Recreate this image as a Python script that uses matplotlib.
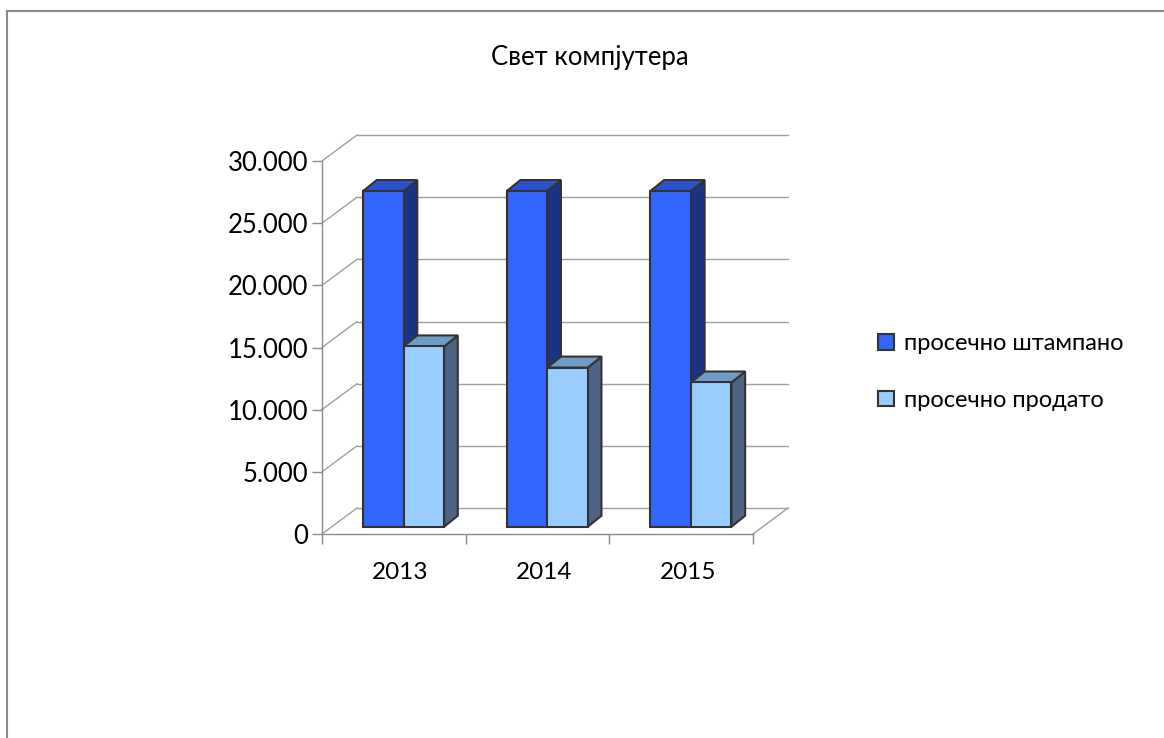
import numpy as np
import matplotlib
matplotlib.use('Agg')
import matplotlib.pyplot as plt
from matplotlib.patches import Polygon, Rectangle
from matplotlib.lines import Line2D

plt.rcParams['font.family'] = ['Lato', 'DejaVu Sans']

# podaci
godine = ['2013', '2014', '2015']
stampano = [27000, 27000, 27000]
prodato = [14500, 12800, 11600]
serije = ['просечно штампано', 'просечно продато']
y_ticks = [0, 5000, 10000, 15000, 20000, 25000, 30000]

# boje: lice, vrh, bok
boje = [('#3366ff', '#2a52cc', '#1b3382'),
        ('#99ccff', '#6f9cc6', '#4d6482')]

fig = plt.figure(figsize=(11.64, 7.38), dpi=100)
ax = fig.add_axes([322 / 1164, 1 - 534 / 738, 431 / 1164, 373 / 738])
ax.set_xlim(0, 3)
ax.set_ylim(0, 30000)

# dubina zida i stubica u jedinicama podataka
zid_dx, zid_dy = 0.2436, 2090
pomak = 0.28
sirina = 0.282
stub_dx, stub_dy = 0.095, 885
siva = '#a0a0a0'

# zadnji zid i dijagonale
for v in y_ticks:
    ax.plot([zid_dx, 3 + zid_dx], [v + zid_dy, v + zid_dy], color=siva, lw=1, clip_on=False, zorder=1)
    ax.plot([0, zid_dx], [v, v + zid_dy], color=siva, lw=1, clip_on=False, zorder=1)
ax.plot([3, 3 + zid_dx], [0, zid_dy], color=siva, lw=1, clip_on=False, zorder=1)

# stubici
z = 3
for i in range(len(godine)):
    for s, vrednosti in enumerate([stampano, prodato]):
        v = vrednosti[i]
        x0 = i + 0.5 - sirina + s * sirina + pomak * zid_dx
        y0 = pomak * zid_dy
        lice, vrh, bok = boje[s]
        ax.add_patch(Polygon([(x0 + sirina, y0), (x0 + sirina + stub_dx, y0 + stub_dy),
                              (x0 + sirina + stub_dx, y0 + v + stub_dy), (x0 + sirina, y0 + v)],
                             closed=True, fc=bok, ec='#333333', lw=1.5, zorder=z, clip_on=False))
        ax.add_patch(Polygon([(x0, y0 + v), (x0 + sirina, y0 + v),
                              (x0 + sirina + stub_dx, y0 + v + stub_dy), (x0 + stub_dx, y0 + v + stub_dy)],
                             closed=True, fc=vrh, ec='#333333', lw=1.5, zorder=z, clip_on=False))
        ax.add_patch(Rectangle((x0, y0), sirina, v, fc=lice, ec='#333333', lw=1.5, zorder=z + 0.5,
                               clip_on=False))
        z += 1

# ose
for sp in ['top', 'right']:
    ax.spines[sp].set_visible(False)
for sp in ['left', 'bottom']:
    ax.spines[sp].set_color('#8c8c8c')
    ax.spines[sp].set_linewidth(1)
ax.set_facecolor('none')
ax.set_yticks(y_ticks)
ax.set_yticklabels([f'{v:,.0f}'.replace(',', '.') for v in y_ticks], fontsize=18.5)
ax.set_xticks([0, 1, 2, 3])
ax.set_xticklabels([])
ax.set_xticks([0.545, 1.545, 2.545], minor=True)
ax.set_xticklabels(godine, minor=True, fontsize=17.5)
ax.tick_params(axis='x', which='minor', length=0, pad=20)
ax.tick_params(axis='both', which='major', direction='out', length=7, color='#8c8c8c', width=1)
ax.tick_params(axis='y', pad=3)

# naslov
fig.text(590 / 1164, 1 - 57 / 738, 'Свет компјутера', ha='center', va='center', fontsize=18.5)

# legenda
rucke = [Rectangle((0, 0), 1, 1, fc=boje[k][0], ec='#333333', lw=1.5) for k in range(2)]
fig.legend(rucke, serije, loc='center left', bbox_to_anchor=(857 / 1164, 1 - 372 / 738),
           frameon=False, fontsize=17, handlelength=0.65, handleheight=0.65,
           handletextpad=0.42, labelspacing=1.5)

# okvir
fig.add_artist(Line2D([6.5 / 1164, 6.5 / 1164], [0, 1 - 10.5 / 738], color='#8a8a8a', lw=1.5,
                      transform=fig.transFigure))
fig.add_artist(Line2D([6.5 / 1164, 1], [1 - 10.5 / 738, 1 - 10.5 / 738], color='#8a8a8a', lw=1.5,
                      transform=fig.transFigure))

fig.savefig('out.png', dpi=100)
